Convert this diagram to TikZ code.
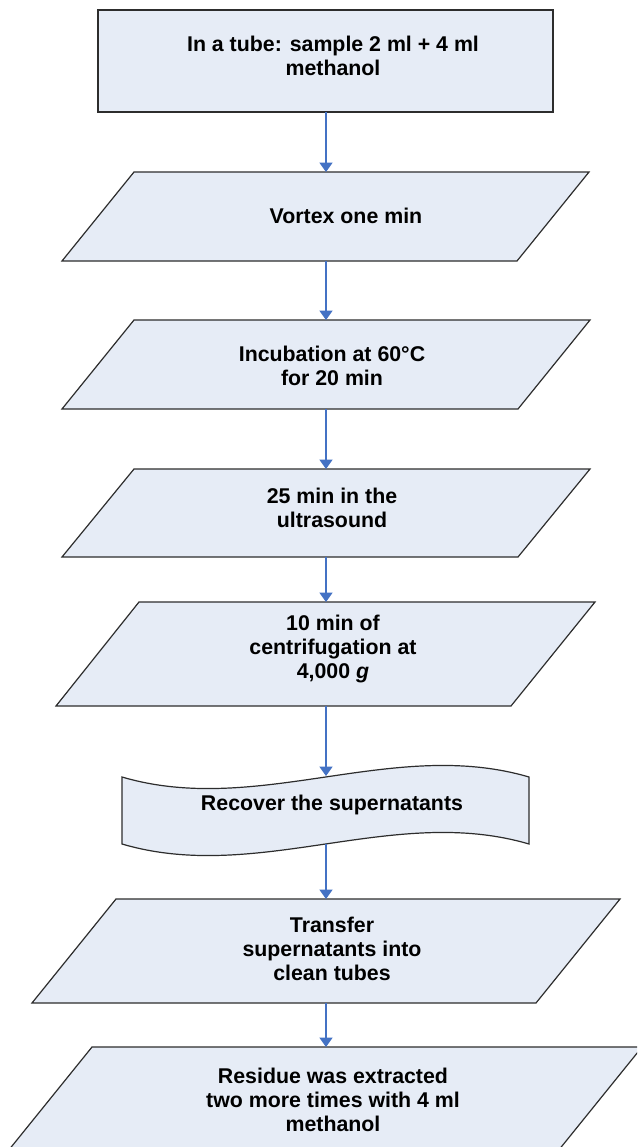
\documentclass[tikz,border=0pt]{standalone}
\usepackage{fontspec}
\setmainfont{Liberation Sans}
\usetikzlibrary{arrows.meta}
\definecolor{boxfill}{RGB}{230,236,246}
\definecolor{boxline}{RGB}{45,45,45}
\definecolor{arrowblue}{RGB}{68,114,196}
\begin{document}
\begin{tikzpicture}[x=0.75pt,y=-0.75pt,
  shapebox/.style={fill=boxfill,draw=boxline,line width=0.9pt,line join=miter},
  txt/.style={align=center,font=\fontsize{16}{18}\selectfont\bfseries,inner sep=0pt},
  flow/.style={draw=arrowblue,line width=0.8pt,-{Triangle[width=9.75pt,length=7pt]}}]
\useasboundingbox (0,0) rectangle (637,1147);
\fill[white] (0,0) rectangle (637,1147);
\clip (0,0) rectangle (637,1147);
% shapes
\draw[shapebox] (98,10) rectangle (553,112);
\draw[shapebox] (134,172) -- (589,172) -- (517,261) -- (62,261) -- cycle;
\draw[shapebox] (134,320) -- (590,320) -- (518,409) -- (62,409) -- cycle;
\draw[shapebox] (134,469) -- (590,469) -- (518,557) -- (62,557) -- cycle;
\draw[shapebox] (139,602) -- (595,602) -- (511,706) -- (56,706) -- cycle;
\draw[shapebox] (122,777) .. controls (258,817) and (393,737) .. (529,777)
  -- (529,844) .. controls (393,804) and (258,884) .. (122,844) -- cycle;
\draw[shapebox] (116,899) -- (620,899) -- (536,1003) -- (32,1003) -- cycle;
\draw[shapebox] (92,1047) -- (642,1047) -- (558,1151) -- (8,1151) -- cycle;
% texts
\node[txt] (t0) at (333,56) {In a tube: sample 2 ml + 4 ml\\methanol};
\node[txt] (t1) at (346,216) {Vortex one min};
\node[txt] (t2) at (332,366) {Incubation at 60°C\\for 20 min};
\node[txt] (t3) at (332,508) {25 min in the\\ultrasound};
\node[txt] (t4) at (333,649) {10 min of\\centrifugation at\\4,000 \textit{g}};
\node[txt] (t5) at (332,805) {Recover the supernatants};
\node[txt] (t6) at (332,949) {Transfer\\supernatants into\\clean tubes};
\node[txt] (t7) at (333,1100) {Residue was extracted\\two more times with 4 ml\\methanol};
% connector ends
\coordinate (s0b) at (326,112);
\coordinate (s1t) at (326,172);
\coordinate (s1b) at (326,261);
\coordinate (s2t) at (326,320);
\coordinate (s2b) at (326,409);
\coordinate (s3t) at (326,469);
\coordinate (s3b) at (326,557);
\coordinate (s4t) at (326,602);
\coordinate (s4b) at (326,706);
\coordinate (s5t) at (326,776);
\coordinate (s5b) at (326,844);
\coordinate (s6t) at (326,899);
\coordinate (s6b) at (326,1003);
\coordinate (s7t) at (326,1047);
% connectors
\draw[flow] (s0b) -- (s1t);
\draw[flow] (s1b) -- (s2t);
\draw[flow] (s2b) -- (s3t);
\draw[flow] (s3b) -- (s4t);
\draw[flow] (s4b) -- (s5t);
\draw[flow] (s5b) -- (s6t);
\draw[flow] (s6b) -- (s7t);
\end{tikzpicture}
\end{document}
